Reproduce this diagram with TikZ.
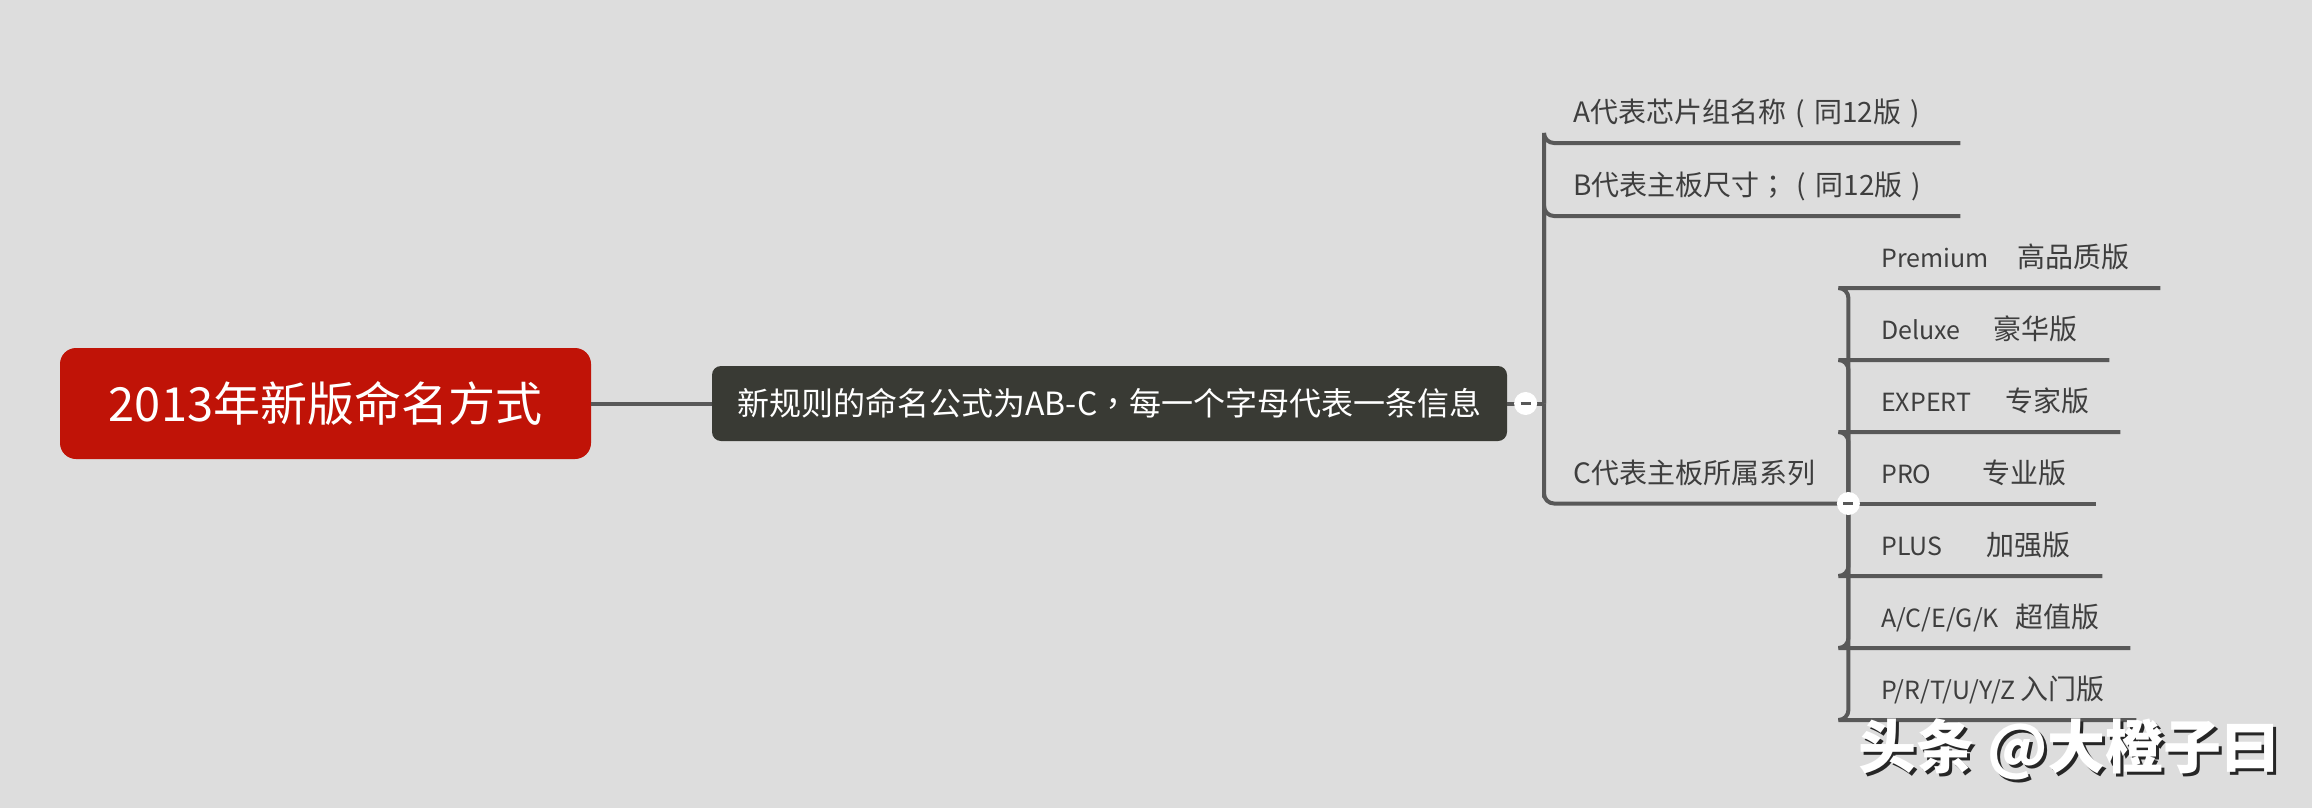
\documentclass[tikz,border=0pt]{standalone}
\usepackage{fontspec}
\setmainfont{Noto Sans CJK SC}
\newfontfamily\tcfont{Noto Sans CJK TC}
\newcommand\zlp{\makebox[1em][c]{(}}
\newcommand\zrp{\makebox[1em][c]{)}}
\newcommand\zsc{{\tcfont ；}}
\newcommand\zcm{{\tcfont ，}}
\newcommand\lat[1]{{\fontsize{25}{29}\selectfont #1}}
\usetikzlibrary{calc}
\definecolor{bgc}{RGB}{221,221,221}
\definecolor{rootred}{RGB}{192,19,7}
\definecolor{darkbox}{RGB}{57,58,52}
\definecolor{linegray}{RGB}{88,88,88}
\definecolor{txtgray}{RGB}{62,62,62}
\begin{document}
\begin{tikzpicture}[x=1pt,y=-1pt,
  conn/.style={draw=linegray, line width=4pt, rounded corners=10pt},
  topic/.style={anchor=south west, inner xsep=0pt, inner ysep=20pt, text depth=0pt, align=left, text=txtgray, font=\fontsize{28}{32}\selectfont},
  subtopic/.style={topic, font=\fontsize{28}{32}\selectfont},
  rootbox/.style={fill=rootred, rounded corners=16pt, minimum width=531pt, minimum height=111pt, inner sep=0pt, text=white, font=\fontsize{47}{51}\selectfont},
  mainbox/.style={fill=darkbox, rounded corners=9pt, minimum width=795pt, minimum height=75pt, inner sep=0pt, text=white, font=\fontsize{32}{36}\selectfont},
  collapse/.style={circle, fill=white, minimum size=23pt, inner sep=0pt},
  minus/.style={draw=linegray, line width=3pt}
]
\fill[bgc] (0,0) rectangle (2312,808);
\useasboundingbox (0,0) rectangle (2312,808);

\node[rootbox] (root) at (325.5,403.5) {2013年新版命名方式};
\node[mainbox] (main) at (1109.5,403.5) {新规则的命名公式为AB-C\zcm 每一个字母代表一条信息};
\coordinate (mj) at (1544,403.5);

\node[topic, text width=416pt] (A) at (1544,143) {\hspace*{29pt}A代表芯片组名称\zlp 同12版\zrp};
\node[topic, text width=416pt] (B) at (1544,216) {\hspace*{29pt}B代表主板尺寸\zsc\zlp 同12版\zrp};
\node[topic, text width=304pt] (C) at (1544,503.5) {\hspace*{29pt}C代表主板所属系列};

\node[subtopic, text width=312pt] (s1) at (1848,288) {\hspace*{33pt}\makebox[136pt][l]{\lat{Premium}}高品质版};
\node[subtopic, text width=261pt] (s2) at (1848,360) {\hspace*{33pt}\makebox[112pt][l]{\lat{Deluxe}}豪华版};
\node[subtopic, text width=272pt] (s3) at (1848,432) {\hspace*{33pt}\makebox[124pt][l]{\lat{EXPERT}}专家版};
\node[subtopic, text width=248pt] (s4) at (1848,503.5) {\hspace*{33pt}\makebox[101pt][l]{\lat{PRO}}专业版};
\node[subtopic, text width=254pt] (s5) at (1848,576) {\hspace*{33pt}\makebox[105pt][l]{\lat{PLUS}}加强版};
\node[subtopic, text width=282pt] (s6) at (1848,648) {\hspace*{33pt}\makebox[134pt][l]{\lat{A/C/E/G/K}}超值版};
\node[subtopic, text width=288pt] (s7) at (1848,720) {\hspace*{33pt}\makebox[139pt][l]{\lat{P/R/T/U/Y/Z}}入门版};

% connectors
\draw[conn] (root.east) -- (main.west);
\draw[conn] (main.east) -- (mj);
\foreach \t in {A,B,C} {
  \draw[conn] (mj) |- (\t.south west) -- (\t.south east);
}
\coordinate (cj) at (C.south east);
\foreach \t in {s1,s2,s3,s5,s6,s7} {
  \draw[conn] (cj) |- (\t.south west) -- (\t.south east);
}
\draw[conn] (cj) -- (s4.south east);

% collapse buttons
\node[collapse] (k1) at ($(main.east)!0.5!(mj)$) {};
\draw[minus] ([xshift=-5pt]k1.center) -- ([xshift=5pt]k1.center);
\node[collapse] (k2) at (cj) {};
\draw[minus] ([xshift=-5pt]k2.center) -- ([xshift=5pt]k2.center);

% watermark
\node[anchor=west, inner sep=0pt, text=black!85, font=\fontsize{58}{62}\selectfont\bfseries] (wms) at (1861,752) {头条 @大橙子曰};
\node[anchor=west, inner sep=0pt, text=white, font=\fontsize{58}{62}\selectfont\bfseries] (wm) at (1858,749) {头条 @大橙子曰};
\end{tikzpicture}
\end{document}
